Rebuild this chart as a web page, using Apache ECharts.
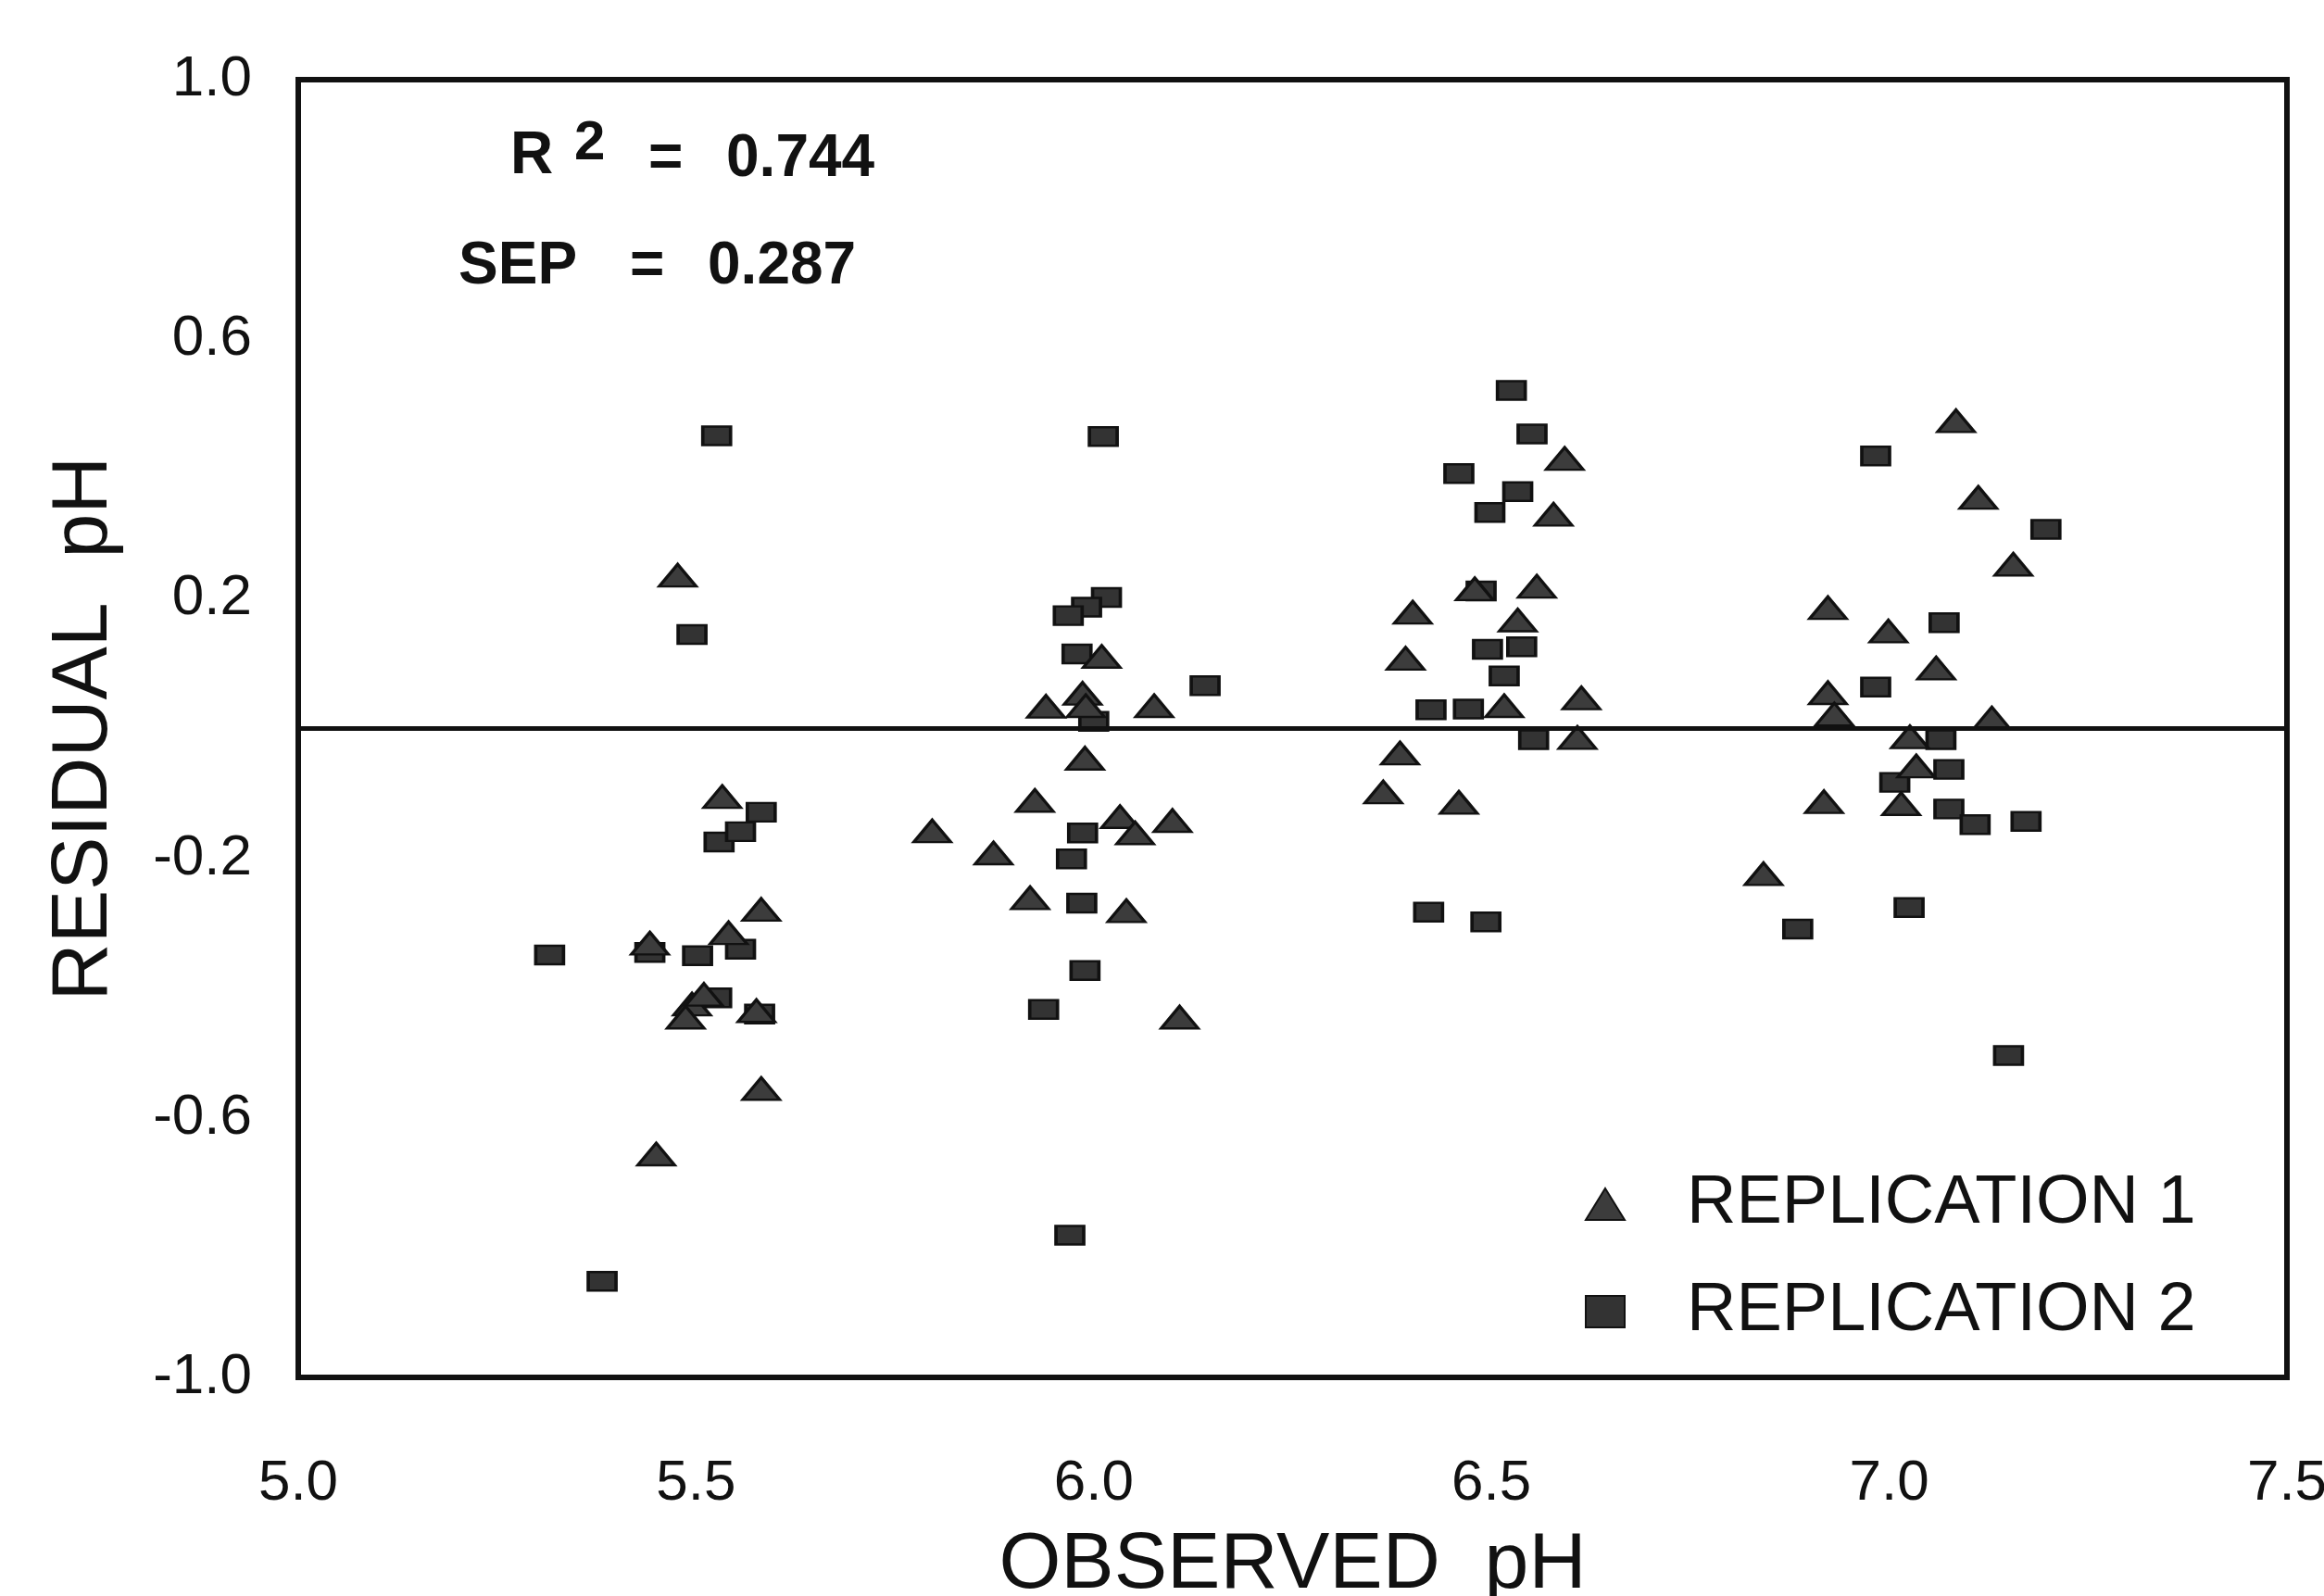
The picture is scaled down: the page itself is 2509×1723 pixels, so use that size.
<!DOCTYPE html>
<html>
<head>
<meta charset="utf-8">
<title>Residual pH vs observed pH</title>
<script src="https://cdn.jsdelivr.net/npm/echarts@6.0.0/dist/echarts.min.js"></script>
<style>
    html, body { margin: 0; padding: 0; background: #fff; }
    #chart { width: 2509px; height: 1723px; }
</style>
</head>
<body>
<div id="chart"></div>
<script>
// values
const seriesNames = ["REPLICATION 1", "REPLICATION 2"];

const rep1Ph = [
    5.477, 5.533, 5.582, 5.442, 5.541, 5.495, 5.510, 5.487, 5.576, 5.582, 5.450,
    5.797, 5.940, 5.986, 5.990, 6.010, 6.076, 5.989, 5.926, 5.874, 6.033, 6.052, 6.099, 5.920, 6.041, 6.108,
    6.592, 6.578, 6.479, 6.557, 6.401, 6.533, 6.392, 6.613, 6.516, 6.608, 6.385, 6.364, 6.459,
    7.084, 7.112, 7.156, 6.923, 6.999, 7.059, 6.923, 6.931, 7.129, 7.026, 7.034, 6.918, 7.015, 6.842,
];
const rep1Residual = [
    0.236, -0.105, -0.279, -0.331, -0.315, -0.425, -0.410, -0.445, -0.435, -0.555, -0.656,
    -0.158, 0.034, 0.054, 0.035, 0.111, 0.035, -0.046, -0.111, -0.192, -0.136, -0.161, -0.142, -0.261, -0.281, -0.445,
    0.416, 0.330, 0.215, 0.219, 0.179, 0.167, 0.108, 0.047, 0.035, -0.014, -0.038, -0.098, -0.114,
    0.474, 0.356, 0.253, 0.186, 0.150, 0.093, 0.055, 0.022, 0.016, -0.013, -0.058, -0.113, -0.116, -0.224,
];

const rep2Ph = [
    5.526, 5.495, 5.316, 5.382, 5.529, 5.556, 5.582, 5.442, 5.502, 5.556, 5.526, 5.580,
    6.012, 6.016, 5.991, 5.968, 5.979, 6.000, 6.140, 5.986, 5.972, 5.985, 5.989, 5.937, 5.970,
    6.525, 6.551, 6.459, 6.533, 6.498, 6.487, 6.495, 6.538, 6.516, 6.424, 6.471, 6.553, 6.421, 6.493,
    6.983, 7.197, 7.069, 6.983, 7.065, 7.075, 7.007, 7.075, 7.108, 7.172, 6.885, 7.025, 7.150,
];
const rep2Residual = [
    0.451, 0.145, -0.349, -0.852, -0.175, -0.159, -0.129, -0.345, -0.350, -0.340, -0.415, -0.440,
    0.450, 0.202, 0.187, 0.174, 0.115, 0.011, 0.066, -0.161, -0.201, -0.269, -0.373, -0.433, -0.781,
    0.521, 0.454, 0.393, 0.365, 0.333, 0.212, 0.122, 0.126, 0.081, 0.029, 0.030, -0.017, -0.283, -0.298,
    0.420, 0.307, 0.163, 0.064, -0.017, -0.063, -0.083, -0.124, -0.148, -0.143, -0.309, -0.276, -0.504,
];

const xTicks = [5.0, 5.5, 6.0, 6.5, 7.0, 7.5];
const yTicks = [-1.0, -0.6, -0.2, 0.2, 0.6, 1.0];

const FONT = "'Liberation Sans', Arial, Helvetica, sans-serif";
const INK = "#111";

function toPairs(xs, ys) {
    return xs.map((x, i) => [x, ys[i]]);
}

function isTick(list, v) {
    return list.some(t => Math.abs(t - v) < 1e-6);
}

function statText(text, x, y, size) {
    return {
        type: "text",
        x: x,
        y: y,
        silent: true,
        style: {
            text: text,
            fill: INK,
            font: "bold " + size + "px " + FONT,
            textAlign: "left",
            textVerticalAlign: "middle",
        },
    };
}

const chart = echarts.init(document.getElementById("chart"));

chart.setOption({
    animation: false,
    backgroundColor: "#fff",
    textStyle: { fontFamily: FONT, color: INK },
    grid: {
        left: 322,
        right: 40,
        top: 86,
        bottom: 236,
        outerBoundsMode: "none",
        containLabel: false,
        show: true,
        borderColor: INK,
        borderWidth: 6,
        backgroundColor: "transparent",
    },
    xAxis: {
        type: "value",
        min: 5.0,
        max: 7.5,
        interval: 0.5,
        name: "OBSERVED  pH",
        nameLocation: "middle",
        nameGap: 160,
        nameTextStyle: { fontSize: 86, color: INK, fontFamily: FONT },
        axisLine: { show: false },
        axisTick: { show: false },
        splitLine: { show: false },
        axisLabel: {
            margin: 84,
            fontSize: 62,
            color: INK,
            fontFamily: FONT,
            showMinLabel: true,
            showMaxLabel: true,
            formatter: v => isTick(xTicks, v) ? v.toFixed(1) : "",
        },
    },
    yAxis: {
        type: "value",
        min: -1.0,
        max: 1.0,
        interval: 0.2,
        name: "RESIDUAL  pH",
        nameLocation: "middle",
        nameGap: 188,
        nameTextStyle: { fontSize: 86, color: INK, fontFamily: FONT },
        axisLine: { show: false },
        axisTick: { show: false },
        splitLine: { show: false },
        axisLabel: {
            margin: 50,
            interval: 0,
            fontSize: 62,
            color: INK,
            fontFamily: FONT,
            showMinLabel: true,
            showMaxLabel: true,
            formatter: v => isTick(yTicks, v) ? v.toFixed(1) : "",
        },
    },
    legend: {
        data: seriesNames,
        orient: "vertical",
        left: 1706,
        top: 1258,
        itemWidth: 42,
        itemHeight: 34,
        itemGap: 42,
        selectedMode: false,
        textStyle: {
            fontSize: 74,
            color: INK,
            fontFamily: FONT,
            padding: [0, 0, 0, 62],
        },
    },
    graphic: [
        statText("R", 551, 169, 64),
        statText("2", 620, 155, 60),
        statText("=", 700, 172, 64),
        statText("0.744", 784, 172, 64),
        statText("SEP", 495, 288, 64),
        statText("=", 680, 288, 64),
        statText("0.287", 764, 288, 64),
    ],
    series: [
        {
            name: seriesNames[0],
            type: "scatter",
            symbol: "triangle",
            symbolSize: [40, 24],
            itemStyle: { color: "#3c3c3c", borderColor: INK, borderWidth: 3, opacity: 1 },
            data: toPairs(rep1Ph, rep1Residual),
            z: 3,
            markLine: {
                silent: true,
                symbol: ["none", "none"],
                label: { show: false },
                lineStyle: { color: INK, width: 5, type: "solid" },
                data: [{ yAxis: 0 }],
            },
        },
        {
            name: seriesNames[1],
            type: "scatter",
            symbol: "rect",
            symbolSize: [30, 20],
            itemStyle: { color: "#333", borderColor: INK, borderWidth: 3, opacity: 1 },
            data: toPairs(rep2Ph, rep2Residual),
            z: 2,
        },
    ],
});

window.addEventListener("resize", () => chart.resize());
</script>
</body>
</html>
